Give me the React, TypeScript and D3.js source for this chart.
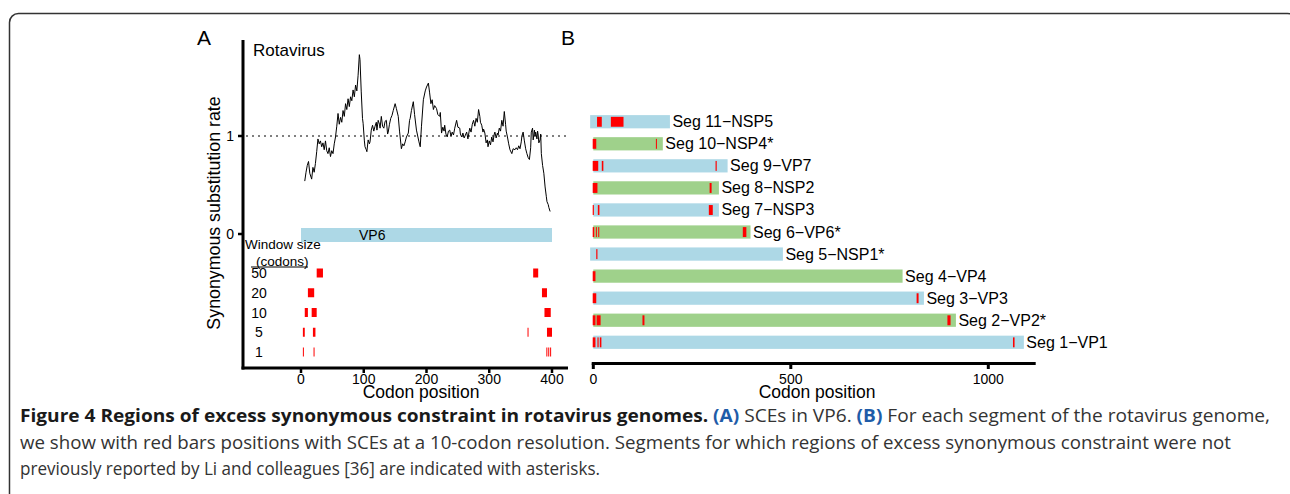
import React from 'react';
import * as d3 from 'd3';

// panel A: synonymous substitution rate along VP6 (codon, rate)
const vp6Rate: [number, number][] = [
  [6,0.54],[8,0.63],[10,0.70],[12,0.74],[14,0.62],[16,0.58],[17,0.56],[19,0.68],[21,0.63],[23,0.72],
  [25,0.84],[27,0.97],[29,0.92],[31,0.95],[33,0.89],[35,0.93],[37,0.86],[39,0.95],[41,0.85],[43,0.82],
  [45,0.88],[47,0.79],[49,0.85],[51,0.82],[53,0.92],[55,0.99],[57,1.10],[59,1.23],[61,1.12],[63,1.19],
  [65,1.14],[67,1.26],[69,1.20],[71,1.33],[73,1.27],[75,1.38],[77,1.30],[79,1.40],[81,1.36],[83,1.47],
  [85,1.40],[87,1.52],[89,1.46],[91,1.62],[93,1.83],[94,1.78],[96,1.45],[98,1.18],[99,1.13],[101,0.95],
  [102,0.89],[104,0.86],[105,0.84],[107,0.96],[109,0.92],[110,0.94],[112,1.06],[114,1.11],[116,1.05],[118,1.10],
  [120,1.14],[121,1.06],[123,1.16],[125,1.12],[126,1.08],[128,1.20],[130,1.10],[132,1.08],[134,1.15],[136,1.16],
  [138,1.02],[139,1.04],[141,1.12],[143,1.18],[145,1.21],[147,1.26],[150,1.33],[152,1.28],[155,1.20],[157,1.05],
  [160,0.87],[162,0.92],[164,0.90],[166,0.94],[168,0.99],[171,1.03],[173,1.16],[174,1.18],[176,1.26],[179,1.35],
  [181,1.22],[184,1.06],[186,1.00],[188,0.94],[190,0.89],[192,1.10],[195,1.37],[198,1.46],[200,1.50],[203,1.54],
  [205,1.44],[207,1.33],[209,1.37],[211,1.27],[213,1.31],[216,1.28],[218,1.22],[221,1.20],[222,1.24],[224,1.03],
  [226,1.09],[228,1.05],[229,1.11],[231,1.02],[233,0.99],[235,1.05],[237,1.06],[239,1.00],[241,1.04],[243,1.01],
  [245,1.08],[248,1.16],[250,1.09],[253,1.08],[254,1.02],[256,0.99],[258,1.03],[260,0.98],[262,1.01],[264,1.04],
  [266,0.97],[268,1.05],[269,1.08],[271,1.04],[273,1.12],[275,1.16],[277,1.10],[279,1.18],[281,1.14],[283,1.27],
  [285,1.20],[286,1.14],[288,1.11],[290,1.04],[291,1.07],[293,1.03],[295,0.93],[297,0.96],[298,0.89],[300,0.95],
  [302,0.91],[304,0.99],[306,0.94],[308,1.02],[309,1.04],[311,0.98],[313,1.03],[314,1.01],[316,1.08],[318,1.05],
  [320,1.16],[322,1.10],[324,1.25],[326,1.12],[327,1.05],[329,0.99],[331,0.92],[333,0.86],[336,0.82],[338,0.87],
  [341,0.86],[343,0.88],[345,0.86],[347,0.90],[349,0.87],[351,0.94],[352,1.00],[354,1.04],[356,0.95],[358,0.87],
  [360,0.82],[362,0.78],[364,0.76],[366,0.88],[367,1.04],[369,1.08],[370,0.96],[372,1.06],[373,1.00],[374,1.04],
  [376,0.97],[377,1.05],[378,1.01],[379,0.93],[381,0.96],[382,1.02],[383,0.82],[385,0.70],[387,0.62],[389,0.48],
  [391,0.38],[392,0.33],[394,0.30],[395,0.27],[397,0.23],
];
const vp6Length = 400;
const windowSizes = ['50', '20', '10', '5', '1'];
const windowSCEs: [number, number][][] = [
  [[25, 35], [370, 378]],
  [[11, 21], [384, 392]],
  [[6, 11], [17, 25], [388, 398]],
  [[3, 6], [19, 23], [361, 362], [392, 400]],
  [[3, 4], [20, 21], [391, 392], [394, 395], [397, 398]],
];
const ticksA = [0, 100, 200, 300, 400];

// panel B: segments of the genome, top to bottom
const segNames = ['Seg 11−NSP5', 'Seg 10−NSP4*', 'Seg 9−VP7', 'Seg 8−NSP2', 'Seg 7−NSP3', 'Seg 6−VP6*',
  'Seg 5−NSP1*', 'Seg 4−VP4', 'Seg 3−VP3', 'Seg 2−VP2*', 'Seg 1−VP1'];
const segStart = [-8, 0, 0, 0, 0, 0, -8, 0, 0, 0, 0];
const segEnd = [194, 176, 340, 318, 318, 398, 480, 783, 837, 918, 1090];
const segSCEs: [number, number][][] = [
  [[11, 23], [46, 78]],
  [[0, 9], [160, 162]],
  [[0, 14], [23, 27], [311, 314]],
  [[0, 12], [296, 301]],
  [[0, 3], [13, 17], [294, 304]],
  [[0, 4], [8, 10], [14, 16], [380, 389]],
  [[9, 12]],
  [[0, 7]],
  [[0, 9], [820, 825]],
  [[0, 7], [10, 20], [126, 131], [898, 906]],
  [[0, 7], [12, 15], [18, 22], [1064, 1068]],
];
const ticksB = [0, 500, 1000];

const blue = '#add8e6';
const green = '#9fd18b';
const red = '#ff0000';
const font = '"Liberation Sans", Arial, Helvetica, sans-serif';

export default function App() {
  const xA = d3.scaleLinear().domain([0, 400]).range([301, 552]);
  const yA = d3.scaleLinear().domain([0, 1]).range([234, 136]);
  const rowA = d3.scalePoint<string>().domain(windowSizes).range([273, 352]);
  const line = d3.line<[number, number]>().x(d => xA(d[0])).y(d => yA(d[1]));

  const xB = d3.scaleLinear().domain([0, 1000]).range([593.3, 988.3]);
  const yB = d3.scaleBand<string>().domain(segNames).range([110.7, 353.3]).paddingInner(0.4).paddingOuter(0.2);
  const bw = yB.bandwidth();

  return (
    <svg width={1290} height={494} style={{ position: 'absolute', left: 0, top: 0, display: 'block', background: '#fff' }}
      fontFamily={font}>
      <rect x={9.5} y={13.5} width={1287} height={600} rx={9} fill="none" stroke="#333" strokeWidth={1.5} />

      {/* Panel A */}
      <text x={197} y={45} fontSize={21}>A</text>
      <text x={253} y={56} fontSize={17}>Rotavirus</text>
      <line x1={243} x2={243} y1={40} y2={369.5} stroke="#000" strokeWidth={3} />
      <line x1={241.5} x2={xA(425.5)} y1={368} y2={368} stroke="#000" strokeWidth={3} />
      {[0, 1].map(v => (
        <g key={v}>
          <line x1={238} x2={243} y1={yA(v)} y2={yA(v)} stroke="#000" strokeWidth={2.5} />
          <text x={234} y={yA(v) + 5} fontSize={14} textAnchor="end">{v}</text>
        </g>
      ))}
      {ticksA.map(t => (
        <g key={t}>
          <line x1={xA(t)} x2={xA(t)} y1={368} y2={373} stroke="#000" strokeWidth={2.5} />
          <text x={xA(t)} y={384} fontSize={14} textAnchor="middle">{t}</text>
        </g>
      ))}
      <text x={421} y={398} fontSize={17.5} textAnchor="middle">Codon position</text>
      <text transform={`translate(220,213) rotate(-90)`} fontSize={17.8} textAnchor="middle">Synonymous substitution rate</text>
      <line x1={246} x2={568} y1={yA(1)} y2={yA(1)} stroke="#000" strokeWidth={1} strokeDasharray="2 4" />
      <path d={line(vp6Rate) || ''} fill="none" stroke="#000" strokeWidth={1} />
      <rect x={xA(0)} y={228} width={xA(vp6Length) - xA(0)} height={14} fill={blue} />
      <text x={359} y={240} fontSize={14}>VP6</text>
      <text x={245} y={249} fontSize={13.5}>Window size</text>
      <text x={256} y={266} fontSize={13.5}>(codons)</text>
      <line x1={251} x2={308} y1={267} y2={267} stroke="#000" strokeWidth={1} />
      {windowSizes.map((w, i) => (
        <g key={w}>
          <text x={259} y={(rowA(w) || 0) + 5} fontSize={14} textAnchor="middle">{w}</text>
          {windowSCEs[i].map(([s, e], j) => (
            <rect key={j} x={xA(s)} y={(rowA(w) || 0) - 4.5} width={Math.max(1, xA(e) - xA(s))} height={9} fill={red} />
          ))}
        </g>
      ))}

      {/* Panel B */}
      <text x={561} y={45} fontSize={21}>B</text>
      {segNames.map((name, i) => {
        const y0 = yB(name) || 0;
        const x1 = xB(segEnd[i]);
        return (
          <g key={name}>
            <rect x={xB(segStart[i])} y={y0} width={x1 - xB(segStart[i])} height={bw} fill={i % 2 === 0 ? blue : green} />
            {segSCEs[i].map(([s, e], j) => (
              <rect key={j} x={xB(s) - 0.6} y={y0 + bw * 0.13} width={Math.max(1, xB(e) - xB(s))} height={bw * 0.75} fill={red} />
            ))}
            <text x={x1 + 2.5} y={y0 + bw / 2 + 5.5} fontSize={16}>{name}</text>
          </g>
        );
      })}
      <line x1={xB(-4)} x2={xB(1120)} y1={363.5} y2={363.5} stroke="#000" strokeWidth={3} />
      {ticksB.map(t => (
        <g key={t}>
          <line x1={xB(t)} x2={xB(t)} y1={363.5} y2={369} stroke="#000" strokeWidth={3} />
          <text x={xB(t)} y={384} fontSize={14} textAnchor="middle">{t}</text>
        </g>
      ))}
      <text x={817} y={398} fontSize={17.5} textAnchor="middle">Codon position</text>

      {/* Caption */}
      <g fontFamily='"Open Sans", "Noto Sans", sans-serif' fontSize={18} fill="#333">
        <text x={20} y={422} textLength={1250} lengthAdjust="spacingAndGlyphs">
          <tspan fontWeight="bold" fill="#1a1a1a">Figure 4 Regions of excess synonymous constraint in rotavirus genomes. </tspan>
          <tspan fontWeight="bold" fill="#1f5ca8">(A)</tspan>
          <tspan> SCEs in VP6. </tspan>
          <tspan fontWeight="bold" fill="#1f5ca8">(B)</tspan>
          <tspan> For each segment of the rotavirus genome,</tspan>
        </text>
        <text x={20} y={449} textLength={1211} lengthAdjust="spacingAndGlyphs">
          we show with red bars positions with SCEs at a 10-codon resolution. Segments for which regions of excess synonymous constraint were not
        </text>
        <text x={20} y={475} textLength={580} lengthAdjust="spacingAndGlyphs">
          previously reported by Li and colleagues [36] are indicated with asterisks.
        </text>
      </g>
    </svg>
  );
}
